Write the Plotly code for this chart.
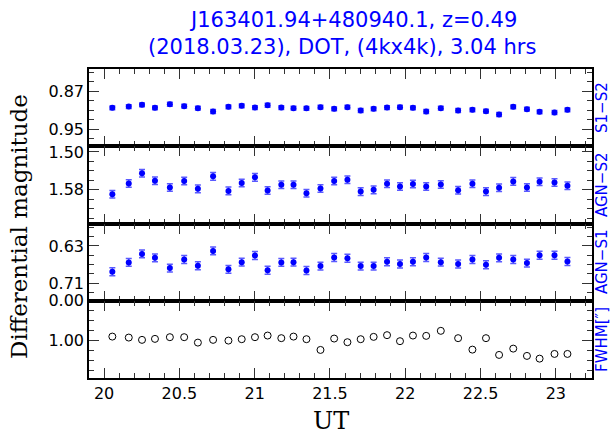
import plotly.graph_objects as go
from plotly.subplots import make_subplots

ut = [20.055, 20.164, 20.252, 20.338, 20.437, 20.532, 20.623, 20.724, 20.826, 20.914,
      21.002, 21.086, 21.177, 21.258, 21.344, 21.437, 21.528, 21.616, 21.704, 21.790,
      21.879, 21.965, 22.051, 22.139, 22.236, 22.351, 22.446, 22.536, 22.623, 22.717,
      22.808, 22.892, 22.991, 23.077]

s1_s2 = [0.9047, 0.9020, 0.8984, 0.9047, 0.8972, 0.9013, 0.9055, 0.9124, 0.9026, 0.9005,
         0.9041, 0.8992, 0.9041, 0.9055, 0.9058, 0.9034, 0.9068, 0.9034, 0.9103, 0.9068,
         0.9041, 0.9034, 0.9047, 0.9124, 0.9055, 0.9103, 0.9089, 0.9118, 0.9187, 0.9026,
         0.9076, 0.9130, 0.9145, 0.9089]
s1_s2_err = [0.004] * 34

agn_s2 = [1.5892, 1.5665, 1.5450, 1.5607, 1.5751, 1.5613, 1.5779, 1.5515, 1.5822, 1.5656,
          1.5536, 1.5815, 1.5693, 1.5693, 1.5871, 1.5772, 1.5613, 1.5586, 1.5837, 1.5800,
          1.5671, 1.5729, 1.5678, 1.5729, 1.5686, 1.5807, 1.5671, 1.5837, 1.5757, 1.5622,
          1.5751, 1.5628, 1.5644, 1.5714]
agn_s2_err = [0.008] * 34

agn_s1 = [0.6853, 0.6653, 0.6470, 0.6555, 0.6775, 0.6589, 0.6726, 0.6406, 0.6802, 0.6647,
          0.6504, 0.6823, 0.6653, 0.6647, 0.6828, 0.6732, 0.6547, 0.6562, 0.6732, 0.6732,
          0.6640, 0.6689, 0.6640, 0.6547, 0.6647, 0.6689, 0.6589, 0.6704, 0.6555, 0.6589,
          0.6668, 0.6498, 0.6498, 0.6632]
agn_s1_err = [0.0085] * 34

fwhm = [0.904, 0.929, 0.987, 0.962, 0.919, 0.919, 1.056, 0.987, 1.005, 0.970,
        0.919, 0.878, 0.944, 0.904, 0.970, 1.241, 0.954, 1.046, 0.970, 0.911,
        0.868, 1.020, 0.878, 0.886, 0.759, 0.944, 1.233, 0.944, 1.367, 1.208,
        1.392, 1.461, 1.342, 1.342]

panel_labels = ["S1\u2212S2", "AGN\u2212S2", "AGN\u2212S1", "FWHM[\u2033]"]
title_lines = ["J163401.94+480940.1, z=0.49", "(2018.03.23), DOT, (4kx4k), 3.04 hrs"]
y_ranges = [[0.9855, 0.823], [1.651, 1.488], [0.7477, 0.5817], [1.95, -0.001]]
y_tick0 = [0.87, 1.50, 0.63, 0.0]
y_dtick = [0.08, 0.08, 0.08, 1.0]
y_minor = [0.02, 0.02, 0.02, 0.25]

BLUE = "#0000ff"
ERRC = "#5a5aff"

fig = make_subplots(rows=4, cols=1, shared_xaxes=True, vertical_spacing=0)

for row, (vals, errs) in enumerate([(s1_s2, s1_s2_err), (agn_s2, agn_s2_err), (agn_s1, agn_s1_err)], start=1):
    fig.add_trace(go.Scatter(
        x=ut, y=vals, mode="markers",
        marker=dict(color=BLUE, size=6),
        error_y=dict(type="data", array=errs, visible=True, color=ERRC, thickness=1.5, width=3),
        showlegend=False), row=row, col=1)

fig.add_trace(go.Scatter(
    x=ut, y=fwhm, mode="markers",
    marker=dict(symbol="circle-open", color="black", size=7, line=dict(width=1)),
    showlegend=False), row=4, col=1)

tickfont = dict(family="DejaVu Sans", size=16, color="black")

for row in range(1, 5):
    fig.update_xaxes(
        range=[19.9, 23.24], tick0=20, dtick=0.5,
        ticks="inside", ticklen=10, tickwidth=1, tickcolor="#333",
        showline=True, linecolor="black", linewidth=2, mirror="ticks",
        showgrid=False, zeroline=False, tickfont=tickfont,
        minor=dict(ticks="inside", ticklen=5, tick0=20, dtick=0.1, tickcolor="#333", tickwidth=1, showgrid=False),
        row=row, col=1)
    i = row - 1
    fig.update_yaxes(
        range=y_ranges[i], tick0=y_tick0[i], dtick=y_dtick[i], tickformat=".2f",
        ticks="inside", ticklen=10, tickwidth=1, tickcolor="#333",
        showline=True, linecolor="black", linewidth=1.5, mirror="ticks",
        showgrid=False, zeroline=False, tickfont=tickfont,
        minor=dict(ticks="inside", ticklen=5, tick0=y_tick0[i], dtick=y_minor[i], tickcolor="#333", tickwidth=1, showgrid=False),
        row=row, col=1)

fig.update_xaxes(showticklabels=True, row=4, col=1)

W, H = 610, 434
PL, PR, PT, PB = 89, 592, 69, 378   # plot area in pixels
L, R, T, B = PL, W - PR, PT, H - PB
pw = PR - PL
ph = PB - PT

def px_x(x):
    return (x - PL) / pw

def px_y(y):
    return (PB - y) / ph

ann = []
ann.append(dict(text=title_lines[0], x=px_x(353), y=px_y(20), xref="paper", yref="paper",
                showarrow=False, xanchor="center", yanchor="middle",
                font=dict(family="DejaVu Sans", size=21, color=BLUE)))
ann.append(dict(text=title_lines[1], x=px_x(342), y=px_y(47), xref="paper", yref="paper",
                showarrow=False, xanchor="center", yanchor="middle",
                font=dict(family="DejaVu Sans", size=21, color=BLUE)))
ann.append(dict(text="Differential magnitude", x=px_x(19), y=px_y(227), xref="paper", yref="paper",
                showarrow=False, xanchor="center", yanchor="middle", textangle=-90,
                font=dict(family="DejaVu Serif", size=23, color="black")))
ann.append(dict(text="UT", x=px_x(331), y=px_y(421), xref="paper", yref="paper",
                showarrow=False, xanchor="center", yanchor="middle",
                font=dict(family="DejaVu Serif", size=24, color="black")))
centers = [108, 185, 262, 340]
for lab, cy in zip(panel_labels, centers):
    ann.append(dict(text=lab, x=px_x(602), y=px_y(cy), xref="paper", yref="paper",
                    showarrow=False, xanchor="center", yanchor="middle", textangle=-90,
                    font=dict(family="DejaVu Sans", size=15, color=BLUE)))

fig.update_layout(
    width=W, height=H,
    margin=dict(l=L, r=R, t=T, b=B, pad=0),
    paper_bgcolor="white", plot_bgcolor="white",
    annotations=ann, showlegend=False,
)

fig.write_html("out.html", include_plotlyjs=True, config={"displayModeBar": False},
               post_script="document.body.style.margin='0';document.body.style.overflow='hidden';")
